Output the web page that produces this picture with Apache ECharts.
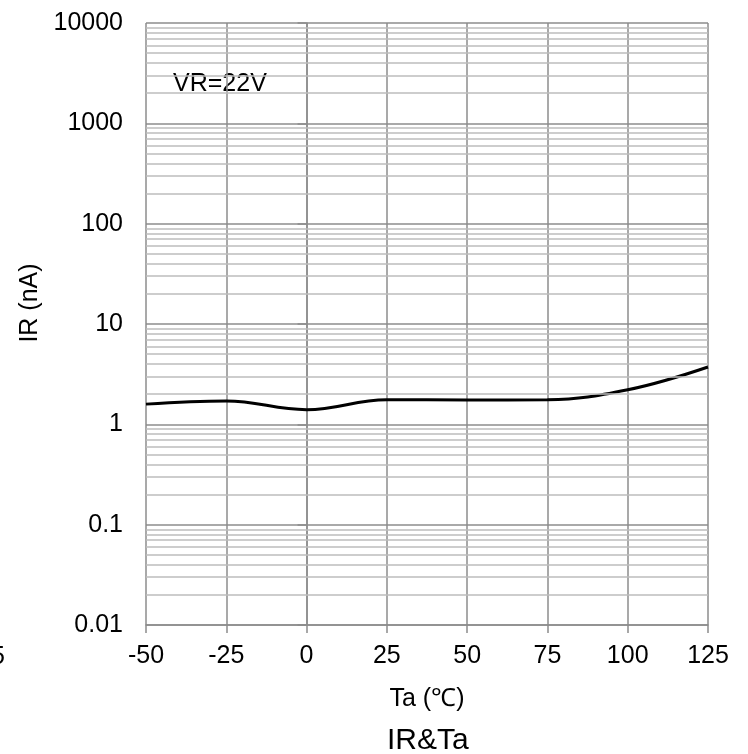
<!DOCTYPE html>
<html><head><meta charset="utf-8">
<script src="https://cdn.jsdelivr.net/npm/echarts@6/dist/echarts.min.js"></script>
<style>html,body{margin:0;padding:0;background:#fff}#c{width:748px;height:754px}</style>
</head><body><div id="c"></div>
<script>
// data
const temps = [-50, -25, 0, 25, 50, 75, 100, 125];
const irValues = [1.59, 1.71, 1.40, 1.76, 1.75, 1.76, 2.21, 3.73];
const yDecades = [0.01, 0.1, 1, 10, 100, 1000, 10000];
const minorFactors = [2, 3, 4, 5, 6, 7, 8, 9];
const xTicks = [-50, -25, 0, 25, 50, 75, 100, 125];

const FONT = "'Liberation Sans', Arial, sans-serif";
const minorLines = [];
for (let i = 0; i < yDecades.length - 1; i++) {
  for (const f of minorFactors) minorLines.push({ yAxis: +(yDecades[i] * f).toPrecision(3) });
}

const chart = echarts.init(document.getElementById('c'), null, { renderer: 'canvas' });
chart.setOption({
  animation: false,
  backgroundColor: '#fff',
  title: {
    text: 'IR&Ta', left: 382, top: 721,
    textStyle: { fontFamily: FONT, fontSize: 30, fontWeight: 'normal', color: '#000' }
  },
  grid: { left: 146, top: 23, width: 562, height: 602, containLabel: false },
  xAxis: {
    type: 'value', min: xTicks[0], max: xTicks[xTicks.length - 1], interval: 25,
    name: 'Ta (℃)', nameLocation: 'middle', nameGap: 62,
    nameTextStyle: { fontFamily: FONT, fontSize: 25, color: '#000' },
    axisLine: { show: true, lineStyle: { color: '#8c8c8c', width: 1.5 } },
    axisTick: { show: true, length: 8, lineStyle: { color: '#8c8c8c', width: 1.5 } },
    axisLabel: { margin: 19, fontFamily: FONT, fontSize: 25, color: '#000' },
    splitLine: { show: true, lineStyle: { color: '#8c8c8c', width: 1.5 } }
  },
  yAxis: {
    type: 'log', logBase: 10, min: yDecades[0], max: yDecades[yDecades.length - 1],
    name: 'IR (nA)', nameLocation: 'middle', nameGap: 100, nameRotate: 90,
    nameTextStyle: { fontFamily: FONT, fontSize: 25, color: '#000', padding: [0, 0, 0, 42] },
    axisLine: { show: true, lineStyle: { color: '#8c8c8c', width: 1.5 } },
    axisTick: { show: true, length: 9, lineStyle: { color: '#8c8c8c', width: 1.5 } },
    axisLabel: { margin: 23, fontFamily: FONT, fontSize: 25, color: '#000',
      formatter: v => String(+(+v).toPrecision(3)) },
    splitLine: { show: true, lineStyle: { color: '#8c8c8c', width: 1.5 } }
  },
  graphic: [
    { type: 'text', left: 173, top: 72, style: { text: 'VR=22V', font: "25px 'Liberation Sans', Arial, sans-serif", fill: '#000' } },
    { type: 'text', left: -9, top: 645, style: { text: '5', font: "25px 'Liberation Sans', Arial, sans-serif", fill: '#000' } }
  ],
  series: [{
    type: 'line',
    data: temps.map((t, i) => [t, irValues[i]]),
    smooth: 0.4,
    symbol: 'none',
    lineStyle: { color: '#000', width: 3 },
    markLine: {
      silent: true, symbol: 'none', animation: false,
      label: { show: false },
      lineStyle: { color: '#bdbdbd', width: 1.5, type: 'solid' },
      data: minorLines
    },
    z: 3
  }]
});
</script></body></html>
